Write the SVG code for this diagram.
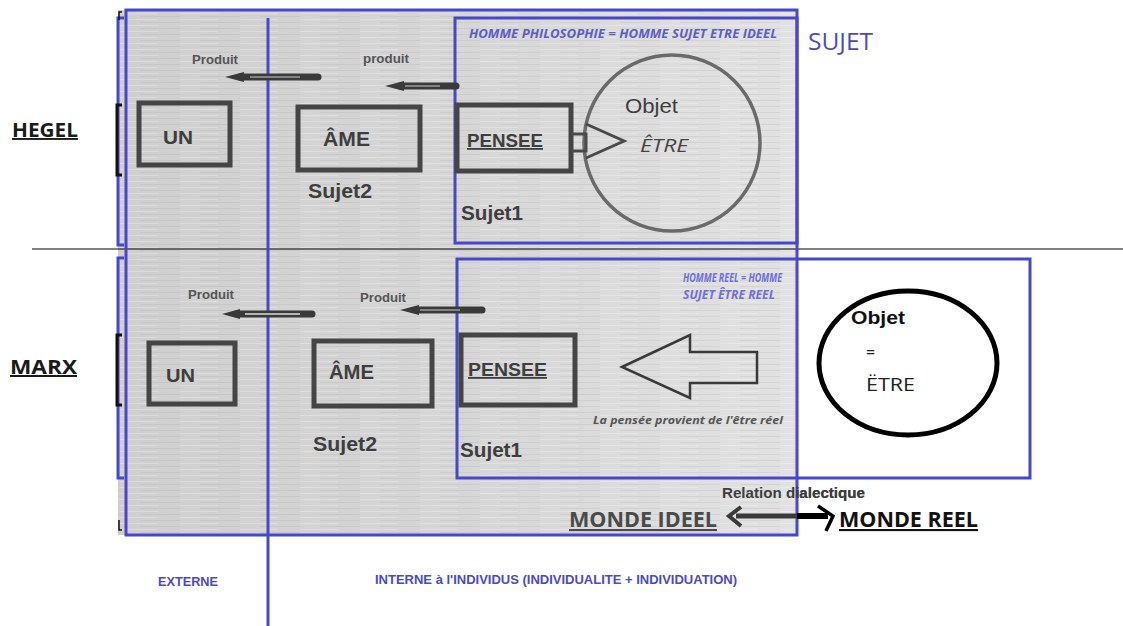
<svg xmlns="http://www.w3.org/2000/svg" width="1123" height="626" viewBox="0 0 1123 626">
<defs>
<linearGradient id="bg" x1="0" y1="0" x2="1" y2="0">
<stop offset="0" stop-color="#cfcfcf"/>
<stop offset="0.5" stop-color="#d6d6d6"/>
<stop offset="1" stop-color="#e2e2e2"/>
</linearGradient>
<pattern id="streak" width="60" height="6" patternUnits="userSpaceOnUse">
<line x1="0" y1="1.5" x2="38" y2="1.5" stroke="#ffffff" stroke-opacity="0.25" stroke-width="1"/>
<line x1="20" y1="4.5" x2="60" y2="4.5" stroke="#9a9a9a" stroke-opacity="0.18" stroke-width="1"/>
</pattern>
<clipPath id="outside"><rect x="798" y="470" width="200" height="40"/></clipPath>
</defs>
<style>
.blue{fill:none;stroke:#4747cc;stroke-width:3}
.box{fill:none;stroke:#454545;stroke-width:5}
.lbl{font-family:"Liberation Sans",Arial,sans-serif;fill:#3e3e3e}
.small{font-family:"Liberation Sans",Arial,sans-serif;font-size:12px;fill:#555;font-weight:bold}
.sans{font-family:"Open Sans","Liberation Sans",sans-serif}
.btxt{font-family:"Liberation Sans",Arial,sans-serif;fill:#4a4ac8;font-weight:bold;font-size:12px}
.thick{stroke:#3a3a3a;stroke-width:7;fill:none;stroke-linecap:round}
</style>
<rect width="1123" height="626" fill="#fff"/>
<g id="background">
<rect x="118" y="10" width="679" height="525" fill="url(#bg)"/>
<rect x="118" y="10" width="679" height="525" fill="url(#streak)"/>
</g>
<g id="frames">
<line x1="32" y1="249" x2="1123" y2="249" stroke="#000" stroke-width="1"/>
<rect x="126" y="10" width="671" height="525" class="blue"/>
<rect x="455" y="18" width="342" height="225" class="blue"/>
<rect x="457" y="259" width="573" height="219" class="blue"/>
<line x1="268" y1="18" x2="268" y2="626" stroke="#4747cc" stroke-width="3"/>
<path d="M124,18 H118 V245 H124" class="blue"/>
<path d="M124,258 H118 V478 H124" class="blue"/>
<path d="M122,105 H117 V175 H122" fill="none" stroke="#111" stroke-width="3"/>
<path d="M122,335 H117 V405 H122" fill="none" stroke="#111" stroke-width="3"/>
<path d="M122,12 H119 V20" fill="none" stroke="#111" stroke-width="1.5"/>
<path d="M122,530 H119 V520" fill="none" stroke="#111" stroke-width="1.5"/>
</g>
<g id="labels">
<text x="12" y="137" class="sans" font-size="19" font-weight="bold" fill="#1a1a1a" text-decoration="underline" textLength="66" lengthAdjust="spacingAndGlyphs">HEGEL</text>
<text x="10" y="374" class="sans" font-size="20" font-weight="bold" fill="#1a1a1a" text-decoration="underline" textLength="67" lengthAdjust="spacingAndGlyphs">MARX</text>
<text x="808" y="50" class="sans" font-size="23" fill="#4a4ac8" textLength="65" lengthAdjust="spacingAndGlyphs">SUJET</text>
<text x="158" y="586" class="btxt" textLength="60" lengthAdjust="spacingAndGlyphs">EXTERNE</text>
<text x="375" y="584" class="btxt" textLength="362" lengthAdjust="spacingAndGlyphs">INTERNE à l'INDIVIDUS (INDIVIDUALITE + INDIVIDUATION)</text>
</g>
<g id="hegel-un"><rect x="139" y="103" width="91" height="62" class="box"/><text x="163" y="144" class="lbl" font-size="19" font-weight="bold" textLength="30" lengthAdjust="spacingAndGlyphs">UN</text></g>
<g id="hegel-ame"><rect x="298" y="107" width="122" height="63" class="box"/><text x="323" y="146" class="lbl" font-size="20" font-weight="bold" textLength="47" lengthAdjust="spacingAndGlyphs">ÂME</text><text x="308" y="198" class="lbl" font-size="20" font-weight="bold" textLength="64" lengthAdjust="spacingAndGlyphs">Sujet2</text></g>
<g id="hegel-pensee"><rect x="457" y="105" width="114" height="66" class="box"/><text x="467" y="147" class="lbl" font-size="18" font-weight="bold" text-decoration="underline" textLength="76" lengthAdjust="spacingAndGlyphs">PENSEE</text><text x="461" y="220" class="lbl" font-size="20" font-weight="bold" textLength="62" lengthAdjust="spacingAndGlyphs">Sujet1</text></g>
<g id="hegel-objet"><circle cx="672" cy="143" r="88" fill="none" stroke="#6a6a6a" stroke-width="3.5"/><text x="625" y="113" class="lbl" font-size="21" textLength="53" lengthAdjust="spacingAndGlyphs">Objet</text><text x="640" y="152" class="sans" font-size="19" font-style="italic" fill="#444" textLength="48" lengthAdjust="spacingAndGlyphs">ÊTRE</text></g>
<g id="hegel-note"><text x="469" y="38" class="sans" font-size="11.5" font-style="italic" font-weight="bold" fill="#5d5dc8" textLength="308" lengthAdjust="spacingAndGlyphs">HOMME PHILOSOPHIE = HOMME SUJET ETRE IDEEL</text></g>
<g id="marx-un"><rect x="149" y="343" width="86" height="61" class="box"/><text x="166" y="382" class="lbl" font-size="19" font-weight="bold" textLength="29" lengthAdjust="spacingAndGlyphs">UN</text></g>
<g id="marx-ame"><rect x="314" y="341" width="118" height="65" class="box"/><text x="329" y="379" class="lbl" font-size="20" font-weight="bold" textLength="45" lengthAdjust="spacingAndGlyphs">ÂME</text><text x="313" y="451" class="lbl" font-size="20" font-weight="bold" textLength="64" lengthAdjust="spacingAndGlyphs">Sujet2</text></g>
<g id="marx-pensee"><rect x="461" y="335" width="114" height="70" class="box"/><text x="468" y="376" class="lbl" font-size="18" font-weight="bold" text-decoration="underline" textLength="79" lengthAdjust="spacingAndGlyphs">PENSEE</text><text x="460" y="457" class="lbl" font-size="20" font-weight="bold" textLength="62" lengthAdjust="spacingAndGlyphs">Sujet1</text></g>
<g id="marx-objet"><ellipse cx="908" cy="363" rx="89" ry="72" fill="none" stroke="#000" stroke-width="5"/><text x="851" y="324" font-family="Liberation Sans,Arial,sans-serif" font-size="19" font-weight="bold" fill="#111" textLength="54" lengthAdjust="spacingAndGlyphs">Objet</text><text x="866" y="358" class="sans" font-size="16" fill="#222">=</text><text x="866" y="391" class="sans" font-size="19" fill="#222" textLength="49" lengthAdjust="spacingAndGlyphs">ËTRE</text></g>
<g id="marx-note"><text x="683" y="282" class="sans" font-size="12" font-style="italic" font-weight="bold" fill="#6e6edc" textLength="99" lengthAdjust="spacingAndGlyphs">HOMME REEL = HOMME</text><text x="683" y="299" class="sans" font-size="12" font-style="italic" font-weight="bold" fill="#6e6edc" textLength="92" lengthAdjust="spacingAndGlyphs">SUJET  ÊTRE REEL</text><text x="593" y="424" class="sans" font-size="11" font-style="italic" font-weight="bold" fill="#555" textLength="190" lengthAdjust="spacingAndGlyphs">La pensée provient de l'être réel</text></g>
<g id="monde-ideel"><text x="569" y="527" class="sans" font-size="21" font-weight="bold" fill="#4a4a4a" text-decoration="underline" textLength="148" lengthAdjust="spacingAndGlyphs">MONDE IDEEL</text></g>
<g id="monde-reel"><text x="839" y="527" class="sans" font-size="21" font-weight="bold" fill="#111" text-decoration="underline" textLength="139" lengthAdjust="spacingAndGlyphs">MONDE REEL</text></g>
<g id="connectors">
<text x="192" y="64" class="small" textLength="46" lengthAdjust="spacingAndGlyphs">Produit</text>
<path d="M318,77 H240" class="thick"/><path d="M244,72 L225,77 L244,82 Z" fill="#3a3a3a"/>
<line x1="250" y1="77" x2="300" y2="77" stroke="#ccc" stroke-width="1.2"/>
<text x="363" y="63" class="small" textLength="46" lengthAdjust="spacingAndGlyphs">produit</text>
<path d="M456,86 H400" class="thick"/><path d="M404,81 L385,86 L404,91 Z" fill="#3a3a3a"/>
<line x1="405" y1="86" x2="440" y2="86" stroke="#ccc" stroke-width="1.2"/>
<path d="M571,134 H586 V151 H571" fill="none" stroke="#4a4a4a" stroke-width="3"/>
<path d="M586,124 L624,141 L586,158" fill="none" stroke="#4a4a4a" stroke-width="3"/>
<text x="188" y="299" class="small" textLength="46" lengthAdjust="spacingAndGlyphs">Produit</text>
<path d="M312,314 H237" class="thick" stroke-width="6"/><path d="M240,309 L222,314 L240,319 Z" fill="#3a3a3a"/>
<line x1="245" y1="314" x2="300" y2="314" stroke="#ddd" stroke-width="1.5"/>
<text x="360" y="302" class="small" textLength="46" lengthAdjust="spacingAndGlyphs">Produit</text>
<path d="M482,310 H416" class="thick"/><path d="M419,305 L400,310 L419,315 Z" fill="#3a3a3a"/>
<line x1="420" y1="310" x2="460" y2="310" stroke="#ccc" stroke-width="1.2"/>
<path d="M622,367 L690,335 V352 H757 V383 H690 V398 Z" fill="none" stroke="#3a3a3a" stroke-width="2.5"/>
<text x="722" y="498" class="lbl" font-size="15" font-weight="bold" fill="#555" textLength="143" lengthAdjust="spacingAndGlyphs">Relation dialectique</text>
<text x="722" y="498" class="lbl" font-size="15" font-weight="bold" fill="#111" textLength="143" lengthAdjust="spacingAndGlyphs" clip-path="url(#outside)">Relation dialectique</text>
<path d="M797,516 H736" stroke="#3a3a3a" stroke-width="5"/>
<path d="M741,507 L729,516 L741,526" fill="none" stroke="#3a3a3a" stroke-width="4"/>
<path d="M797,516 H828" stroke="#000" stroke-width="6"/>
<path d="M818,506 L833,516 L826,531" fill="none" stroke="#000" stroke-width="3.5"/>
</g>
</svg>
